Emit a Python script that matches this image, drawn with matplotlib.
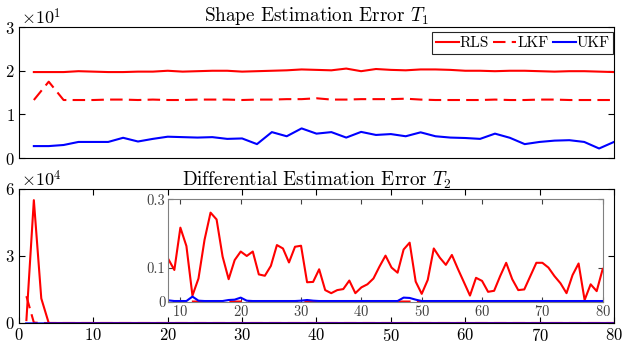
import numpy as np
import matplotlib
matplotlib.use("Agg")
import matplotlib.pyplot as plt

plt.rcParams["font.family"] = "serif"
plt.rcParams["font.serif"] = ["cmr10", "DejaVu Serif"]
plt.rcParams["mathtext.fontset"] = "cm"
plt.rcParams["axes.formatter.use_mathtext"] = True
plt.rcParams["axes.unicode_minus"] = False

# ── Data ──────────────────────────────────────────────────────────────────────
steps_t1 = np.arange(2, 81, 2)
rls_t1 = [19.7, 19.7, 19.7, 19.9, 19.8, 19.7, 19.7, 19.8, 19.8, 20.0,
          19.8, 19.9, 20.0, 20.0, 19.8, 19.9, 20.0, 20.1, 20.3, 20.2,
          20.1, 20.5, 19.9, 20.4, 20.2, 20.1, 20.3, 20.3, 20.2, 20.0,
          20.0, 19.9, 20.0, 20.0, 19.9, 19.8, 19.9, 19.9, 19.8, 19.7]
lkf_t1 = [13.3, 17.5, 13.3, 13.3, 13.3, 13.4, 13.4, 13.3, 13.4, 13.3,
          13.3, 13.4, 13.4, 13.4, 13.3, 13.4, 13.4, 13.5, 13.5, 13.7,
          13.4, 13.4, 13.5, 13.5, 13.5, 13.6, 13.4, 13.3, 13.3, 13.3,
          13.3, 13.4, 13.3, 13.3, 13.4, 13.4, 13.3, 13.3, 13.3, 13.3]
ukf_t1 = [2.75, 2.75, 3.0, 3.7, 3.7, 3.7, 4.65, 3.8, 4.4, 4.9,
          4.8, 4.7, 4.8, 4.4, 4.5, 3.2, 5.95, 5.0, 6.8, 5.6,
          5.95, 4.7, 6.0, 5.3, 5.5, 5.0, 5.9, 5.0, 4.7, 4.6,
          4.4, 5.6, 4.65, 3.2, 3.7, 4.0, 4.1, 3.7, 2.2, 3.7]

steps_t2 = np.arange(1, 81)
rls_t2 = [1300, 55000, 11000, 0.15, 0.12, 0.10, 0.14, 0.125, 0.093, 0.217,
          0.163, 0.018, 0.068, 0.181, 0.261, 0.241, 0.132, 0.066, 0.122, 0.147,
          0.134, 0.147, 0.080, 0.076, 0.105, 0.166, 0.156, 0.115, 0.161, 0.164,
          0.057, 0.058, 0.095, 0.034, 0.025, 0.034, 0.037, 0.062, 0.025, 0.042,
          0.051, 0.068, 0.103, 0.135, 0.100, 0.085, 0.153, 0.173, 0.059, 0.023,
          0.064, 0.156, 0.129, 0.108, 0.137, 0.096, 0.057, 0.018, 0.070, 0.061,
          0.029, 0.032, 0.075, 0.114, 0.066, 0.034, 0.036, 0.075, 0.114, 0.114,
          0.100, 0.075, 0.054, 0.025, 0.078, 0.112, 0.005, 0.051, 0.031, 0.096]
lkf_t2 = [12000, 200] + [0.0005] * 78
ukf_t2 = [0.002, 0.002, 0.002, 0.002, 0.002, 0.002, 0.002, 0.004, 0.002, 0.002,
          0.002, 0.015, 0.003, 0.002, 0.002, 0.002, 0.002, 0.005, 0.006, 0.012,
          0.003, 0.002, 0.002, 0.002, 0.002, 0.002, 0.002, 0.002, 0.002, 0.003,
          0.005, 0.003, 0.002, 0.002, 0.002, 0.002, 0.002, 0.002, 0.002, 0.002,
          0.002, 0.002, 0.002, 0.002, 0.002, 0.002, 0.012, 0.011, 0.006, 0.002,
          0.002, 0.002, 0.002, 0.002, 0.002, 0.002, 0.002, 0.002, 0.002, 0.002,
          0.002, 0.002, 0.002, 0.002, 0.002, 0.002, 0.002, 0.002, 0.002, 0.002,
          0.002, 0.002, 0.002, 0.002, 0.002, 0.002, 0.002, 0.002, 0.002, 0.002]

RED, BLUE = "#ff0000", "#0000ff"
LW = 1.5
DASH = (0, (6, 3))

fig = plt.figure(figsize=(6.22, 3.49), dpi=100)

# ── Top: shape error T1 ───────────────────────────────────────────────────────
ax1 = fig.add_axes([0.0305, 0.547, 0.9566, 0.3754])
ax1.plot(steps_t1, np.array(rls_t1) / 10, color=RED, lw=LW, label="RLS")
ax1.plot(steps_t1, np.array(lkf_t1) / 10, color=RED, lw=LW, ls=DASH, label="LKF")
ax1.plot(steps_t1, np.array(ukf_t1) / 10, color=BLUE, lw=LW, label="UKF")
ax1.set_xlim(0, 80); ax1.set_ylim(0, 3)
ax1.set_yticks([0, 1, 2, 3]); ax1.set_xticks([])
ax1.tick_params(direction="in", right=True, labelsize=12, length=4.5, pad=3)
ax1.text(0.003, 1.0, r"$\times10^{1}$", transform=ax1.transAxes, fontsize=13, va="bottom")
ax1.set_title(r"Shape Estimation Error $T_1$", fontsize=13.8, pad=4)
leg = ax1.legend(loc="upper right", bbox_to_anchor=(0.999, 0.96), borderaxespad=0,
                 ncol=3, fontsize=11, handlelength=1.5, handletextpad=0.05,
                 columnspacing=0.3, borderpad=0.25, fancybox=False, framealpha=1)
leg.get_frame().set_edgecolor("#262626"); leg.get_frame().set_linewidth(0.8)

# ── Bottom: differential error T2 ─────────────────────────────────────────────
ax2 = fig.add_axes([0.0305, 0.0745, 0.9566, 0.384])
ax2.plot(steps_t2, np.array(rls_t2) / 1e4, color=RED, lw=LW)
ax2.plot(steps_t2, np.array(lkf_t2) / 1e4, color=RED, lw=LW, ls=DASH)
ax2.plot(steps_t2, np.array(ukf_t2) / 1e4, color=BLUE, lw=LW + 0.5, alpha=0.75)
ax2.set_xlim(0, 80); ax2.set_ylim(0, 6)
ax2.set_xticks(np.arange(0, 81, 10)); ax2.set_yticks([0, 3, 6])
ax2.tick_params(direction="in", right=True, top=True, labelsize=12, length=4.5, pad=3)
ax2.text(0.003, 1.0, r"$\times10^{4}$", transform=ax2.transAxes, fontsize=13, va="bottom")
ax2.set_title(r"Differential Estimation Error $T_2$", fontsize=13.8, pad=2)

# inset zoom
axi = fig.add_axes([0.2706, 0.1355, 0.6984, 0.2934])
axi.plot(steps_t2, rls_t2, color=RED, lw=LW)
axi.plot(steps_t2, lkf_t2, color=RED, lw=LW, ls=DASH)
axi.plot(steps_t2, ukf_t2, color=BLUE, lw=LW)
axi.set_xlim(8, 80); axi.set_ylim(0, 0.3)
axi.set_xticks(np.arange(10, 81, 10)); axi.set_yticks([0, 0.1, 0.3])
axi.set_yticklabels(["0", "0.1", "0.3"])
axi.tick_params(direction="in", right=True, top=True, labelsize=10.5, length=3.5,
                colors="#404040", pad=2)
for s in axi.spines.values():
    s.set_color("#808080")

fig.savefig("out.png", dpi=100)
